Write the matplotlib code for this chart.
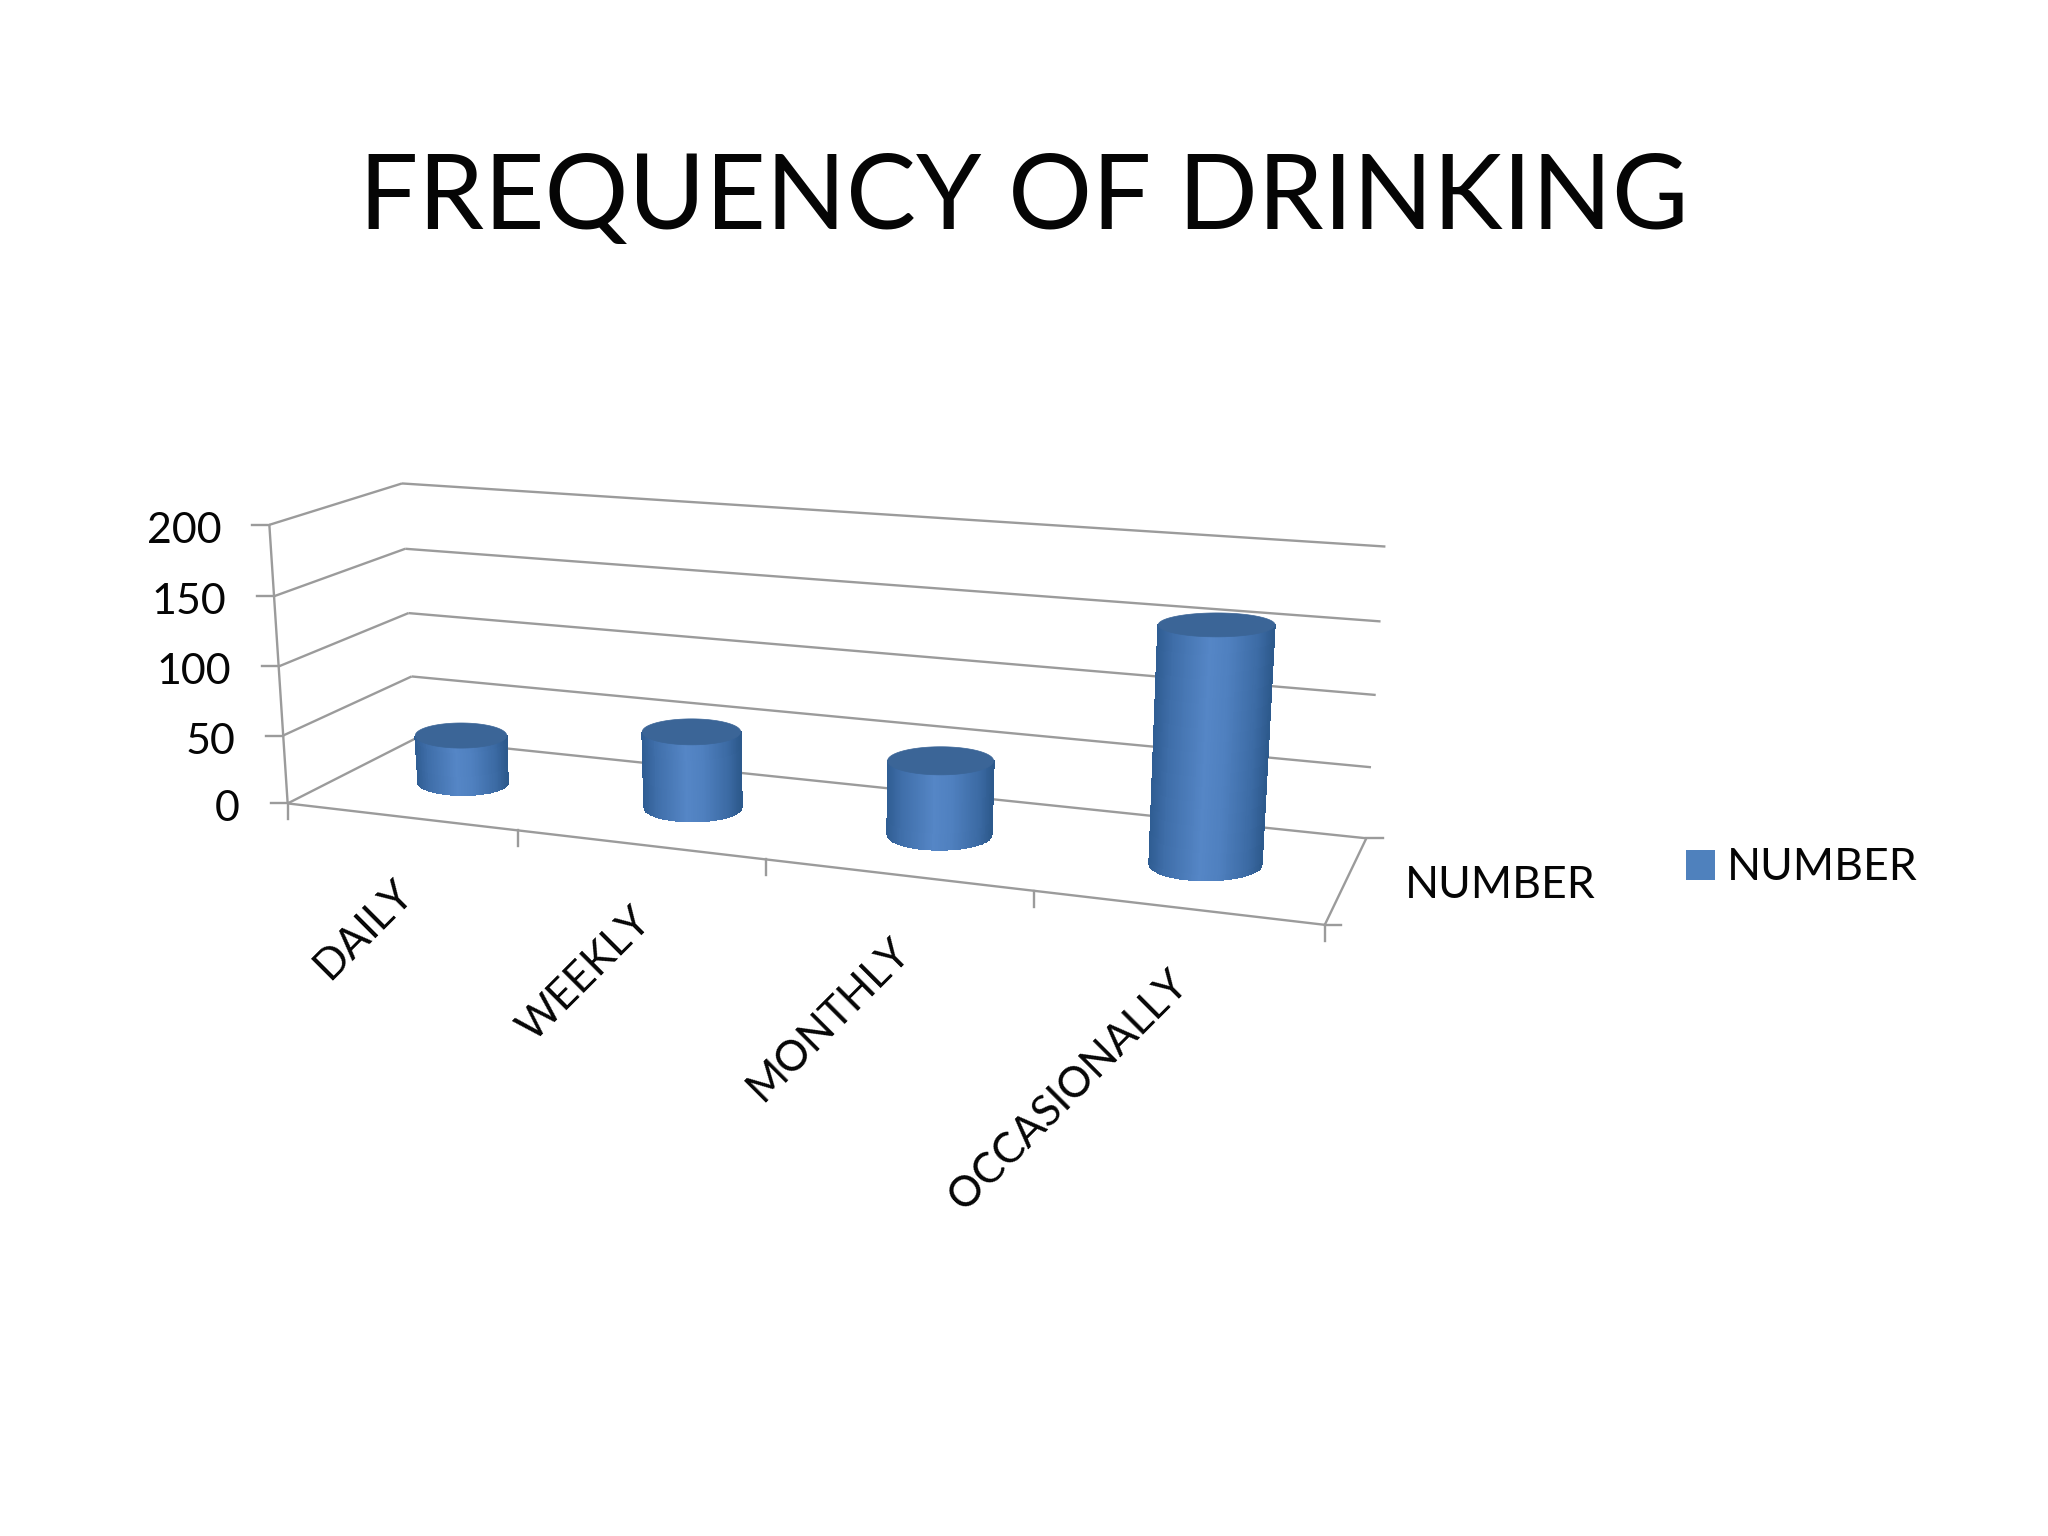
import numpy as np
import matplotlib
matplotlib.use("Agg")
import matplotlib.pyplot as plt
from matplotlib.colors import LinearSegmentedColormap
from matplotlib.patches import Patch, Polygon

plt.rcParams['font.family'] = ['Lato', 'DejaVu Sans']

title = "FREQUENCY OF DRINKING"
categories = ["DAILY", "WEEKLY", "MONTHLY", "OCCASIONALLY"]
values = [35, 55, 52, 160]
y_ticks = [0, 50, 100, 150, 200]
series_name = "NUMBER"

# camera calibration: (category axis, depth axis, value axis) -> image pixel
CAL = [
    (0, 0, 200, 270, 525), (0, 0, 150, 274, 596), (0, 0, 100, 278, 667),
    (0, 0, 50, 283, 735), (0, 0, 0, 288, 803),
    (0, 1, 200, 402, 483), (0, 1, 150, 405, 549), (0, 1, 100, 408, 613),
    (0, 1, 50, 412, 676), (0, 1, 0, 415, 740),
    (4, 1, 200, 1385, 547), (4, 1, 150, 1381, 622), (4, 1, 100, 1376, 694),
    (4, 1, 50, 1371, 767), (4, 1, 0, 1366, 838),
    (4, 0, 0, 1325, 925), (1, 0, 0, 518, 830), (2, 0, 0, 766, 860), (3, 0, 0, 1034, 891),
]
A, b = [], []
for u, w, h, px, py in CAL:
    A.append([u, w, h, 1, 0, 0, 0, 0, -px*u, -px*w, -px*h]); b.append(px)
    A.append([0, 0, 0, 0, u, w, h, 1, -py*u, -py*w, -py*h]); b.append(py)
P = np.append(np.linalg.lstsq(np.array(A, float), np.array(b, float), rcond=None)[0], 1).reshape(3, 4)


def project(u, w, h):
    q = P @ np.array([u, w, h, 1.0])
    return q[0]/q[2], q[1]/q[2]


GRID = "#9b9b9b"
LW = 1.7


def seg(ax, a, b):
    p, q = project(*a), project(*b)
    ax.plot([p[0], q[0]], [p[1], q[1]], color=GRID, lw=LW, solid_capstyle='butt', zorder=1)


fig = plt.figure(figsize=(20.48, 15.36), dpi=100, facecolor="white")
ax = fig.add_axes([0, 0, 1, 1])
ax.set_xlim(0, 2048)
ax.set_ylim(1536, 0)
ax.axis("off")

ax.text(1024, 200, title, fontsize=75.4, ha="center", va="center", color="#050505")

n = len(categories)
top = max(y_ticks)
for t in y_ticks:
    seg(ax, (0, 0, t), (0, 1, t))
    seg(ax, (0, 1, t), (n, 1, t))
    x0, y0 = project(0, 0, t)
    ax.plot([x0-17, x0], [y0, y0], color=GRID, lw=LW, zorder=1)
    ax.text(x0-48, y0+6, str(t), fontsize=31, ha="right", va="center", color="#050505")
seg(ax, (0, 0, 0), (0, 0, top))
seg(ax, (0, 0, 0), (n, 0, 0))
seg(ax, (n, 0, 0), (n, 1, 0))
bx, by = project(n, 1, 0)
ax.plot([bx, bx+17], [by, by], color=GRID, lw=LW, zorder=1)
fx, fy = project(n, 0, 0)
ax.plot([fx, fx+16], [fy, fy], color=GRID, lw=LW, zorder=1)
for i in range(n+1):
    x0, y0 = project(i, 0, 0)
    ax.plot([x0, x0], [y0, y0+16], color=GRID, lw=LW, zorder=1)

cmap = LinearSegmentedColormap.from_list("cyl", [
    (0.0, "#2f5c92"), (0.14, "#3f6ea9"), (0.45, "#5586c6"), (0.62, "#4f80bf"),
    (0.88, "#3b6aa3"), (1.0, "#2d598c")])
RU, RW, W0 = 0.205, 0.2, 0.5
for i, v in enumerate(values):
    u = i + 0.5
    def ell(h):
        cx, cy = project(u, W0, h)
        rx = (project(u+RU, W0, h)[0] - project(u-RU, W0, h)[0])/2
        ry = abs(project(u, W0+RW, h)[1] - project(u, W0-RW, h)[1])/2
        return cx, cy, rx, ry
    bcx, bcy, brx, bry = ell(0)
    tcx, tcy, trx, try_ = ell(v)
    s = np.linspace(-1, 1, 121)
    arc = np.sqrt(1 - s**2)
    X = np.vstack([tcx + s*trx, bcx + s*brx])
    Y = np.vstack([tcy + arc*try_, bcy + arc*bry])
    C = ((s[:-1] + s[1:])/2 + 1)/2
    ax.pcolormesh(X, Y, C[None, :], cmap=cmap, vmin=0, vmax=1, shading="flat",
                  edgecolors="face", linewidth=0.3, zorder=3)
    th = np.linspace(0, 2*np.pi, 120)
    ax.add_patch(Polygon(np.c_[tcx + trx*np.cos(th), tcy + try_*np.sin(th)],
                         closed=True, fc="#3b6597", ec="#3b6597", lw=0.5, zorder=4))
    lx, ly = project(u, 0, 0)
    ax.text(lx + 5, ly + 70, categories[i], fontsize=30.5, rotation=45, rotation_mode="anchor",
            ha="right", va="center", color="#050505")

ax.text(1405, 885, series_name, fontsize=32, ha="left", va="center", color="#050505")
ax.legend(handles=[Patch(facecolor="#4f81bd", label=series_name)], loc="center left",
          bbox_to_anchor=(1664/2048, 1-868/1536), frameon=False, fontsize=32,
          handlelength=0.65, handleheight=0.65, handletextpad=0.27, labelcolor="#050505",
          borderpad=0)
fig.savefig("out.png", dpi=100, facecolor="white")
